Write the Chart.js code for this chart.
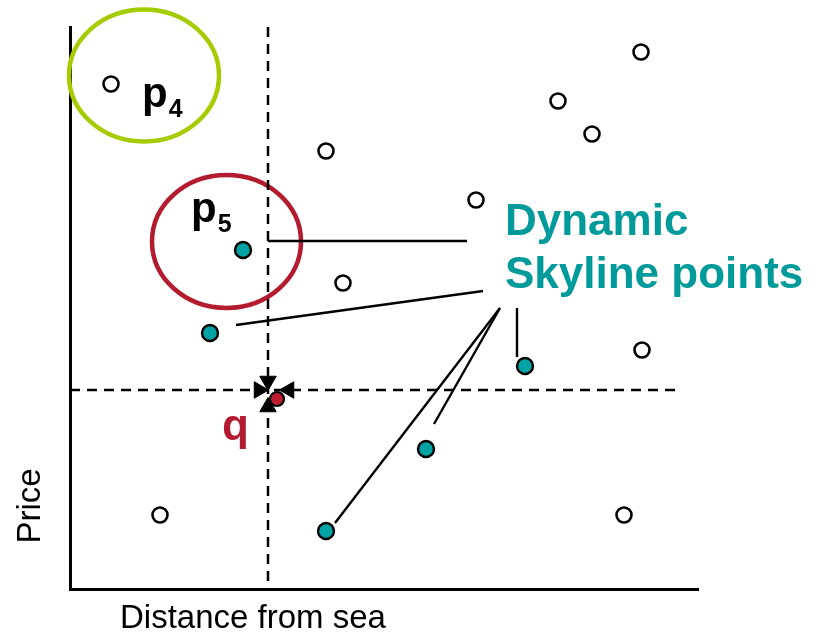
<html>
<head>
<title>Dynamic skyline</title>
<style>body{margin:0;background:#fff}</style>
</head>
<body>
<canvas id="chart" width="818" height="632"></canvas>
<script src="https://cdn.jsdelivr.net/npm/chart.js@4/dist/chart.umd.min.js"></script>
<script>
// data space: x = distance from sea, y = price (arbitrary units)
const otherX = [41, 256, 571, 488, 522, 406, 273, 572, 90, 554]
const otherY = [505, 438, 537, 488, 455, 389, 306, 239, 74, 74]
const skylineX = [173, 140, 455, 356, 256]
const skylineY = [339, 256, 223, 140, 58]
const queryX = 207
const queryY = 190
// dashed cross through the query
const crossX = 198
const crossY = 199
const crossEndX = 612
// leader lines from the label to the skyline points
const leaderFrom = [[198, 348], [166, 264], [430, 281], [430, 281], [447, 281]]
const leaderTo = [[397, 348], [413, 298], [265, 66], [364, 165], [447, 232]]
// arrow heads around the query
const arrowX = [198, 189, 219, 198]
const arrowY = [208, 199, 199, 182]
const arrowRot = [180, 90, 270, 0]
// highlighted regions
const ringX = [74, 156.5]
const ringY = [513.5, 347.5]
const ringRx = [75, 74.5]
const ringRy = [66, 66.5]
const ringColor = ['#a4cc00', '#b31b2f']

const font = 'Liberation Sans, Arial, sans-serif'
const teal = '#009a9a'
const red = '#b31b2f'

const pts = (xs, ys) => xs.map((x, i) => ({x: x, y: ys[i]}))

const datasets = []
datasets.push({data: [{x: crossX, y: 562}, {x: crossX, y: 0}], showLine: true, borderColor: '#000', borderWidth: 2.5, borderDash: [10, 7], pointRadius: 0})
datasets.push({data: [{x: 0, y: crossY}, {x: crossEndX, y: crossY}], showLine: true, borderColor: '#000', borderWidth: 2.5, borderDash: [10, 7], pointRadius: 0})
leaderFrom.forEach((f, i) => {
    datasets.push({data: [{x: f[0], y: f[1]}, {x: leaderTo[i][0], y: leaderTo[i][1]}], showLine: true, borderColor: '#000', borderWidth: 2.4, pointRadius: 0})
})
datasets.push({data: pts(otherX, otherY), pointRadius: 7.5, pointBackgroundColor: '#fff', pointBorderColor: '#000', pointBorderWidth: 2.6})
datasets.push({data: pts(skylineX, skylineY), pointRadius: 8, pointBackgroundColor: '#00a3a3', pointBorderColor: '#000', pointBorderWidth: 2.4})
datasets.push({data: pts(arrowX, arrowY), pointStyle: 'triangle', pointRotation: arrowRot, pointRadius: 9.5, pointBackgroundColor: '#000', pointBorderColor: '#000', pointBorderWidth: 1})
datasets.push({data: [{x: queryX, y: queryY}], pointRadius: 7, pointBackgroundColor: '#c01c30', pointBorderColor: '#000', pointBorderWidth: 2.2})

const decor = {
    id: 'decor',
    beforeDatasetsDraw(chart) {
        const ctx = chart.ctx
        const xs = chart.scales.x, ys = chart.scales.y
        ctx.save()
        ringX.forEach((cx, i) => {
            const px = xs.getPixelForValue(cx), py = ys.getPixelForValue(ringY[i])
            const rx = xs.getPixelForValue(cx + ringRx[i]) - px
            const ry = py - ys.getPixelForValue(ringY[i] + ringRy[i])
            ctx.beginPath()
            ctx.ellipse(px, py, rx, ry, 0, 0, Math.PI * 2)
            ctx.lineWidth = 4.5
            ctx.strokeStyle = ringColor[i]
            ctx.stroke()
        })
        ctx.restore()
    },
    afterDatasetsDraw(chart) {
        const ctx = chart.ctx
        const xs = chart.scales.x, ys = chart.scales.y
        const a = chart.chartArea
        ctx.save()
        ctx.textBaseline = 'alphabetic'
        function label(txt, sub, x, y, color, size) {
            const px = xs.getPixelForValue(x), py = ys.getPixelForValue(y)
            ctx.fillStyle = color
            ctx.font = 'bold ' + size + 'px ' + font
            ctx.textAlign = 'left'
            ctx.fillText(txt, px, py)
            if (sub) {
                const w = ctx.measureText(txt).width
                ctx.font = 'bold 25px ' + font
                ctx.fillText(sub, px + w + 1, py + 10)
            }
        }
        label('p', '4', 72, 482, '#000', 42)
        label('p', '5', 121, 367, '#000', 42)
        label('q', '', 152, 149, red, 44)

        ctx.fillStyle = teal
        ctx.font = 'bold 44px ' + font
        ctx.fillText('Dynamic', xs.getPixelForValue(435), ys.getPixelForValue(354))
        ctx.fillText('Skyline points', xs.getPixelForValue(435), ys.getPixelForValue(301))

        ctx.fillStyle = '#000'
        ctx.font = '33px ' + font
        ctx.textAlign = 'center'
        ctx.fillText('Distance from sea', a.left + 183, a.bottom + 39)
        ctx.translate(a.left - 39, a.bottom - 83)
        ctx.rotate(-Math.PI / 2)
        ctx.textBaseline = 'middle'
        ctx.fillText('Price', 0, 0)
        ctx.restore()
    }
}

new Chart(document.getElementById('chart'), {
    type: 'scatter',
    data: {datasets: datasets},
    options: {
        responsive: false,
        animation: false,
        layout: {padding: {left: 70, right: 120, top: 27, bottom: 43}},
        plugins: {legend: {display: false}, tooltip: {enabled: false}},
        scales: {
            x: {
                min: 0, max: 628,
                ticks: {display: false},
                grid: {display: true, drawOnChartArea: false, drawTicks: false},
                border: {display: true, color: '#000', width: 3}
            },
            y: {
                min: 0, max: 562,
                ticks: {display: false},
                grid: {display: true, drawOnChartArea: false, drawTicks: false},
                border: {display: true, color: '#000', width: 3}
            }
        }
    },
    plugins: [decor]
})
</script>
</body>
</html>
